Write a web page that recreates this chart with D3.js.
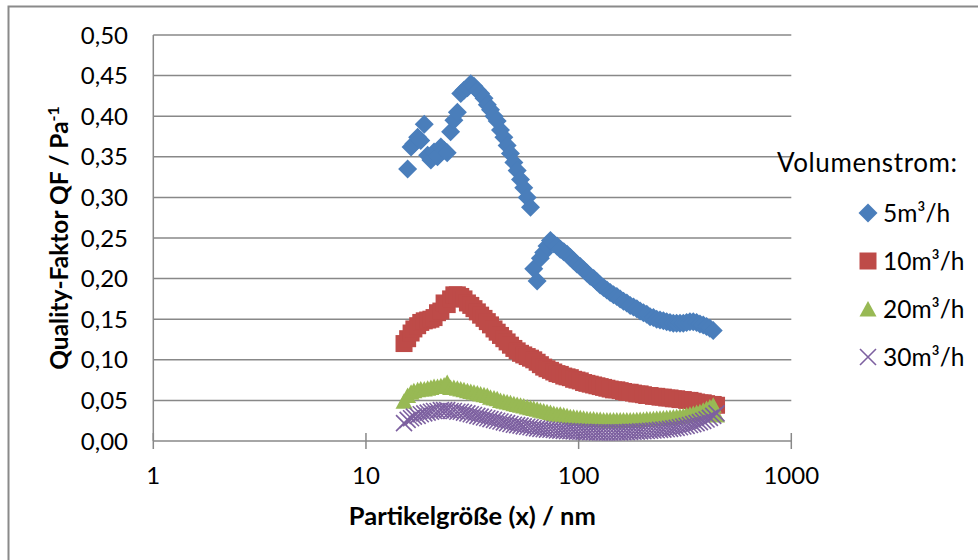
<!DOCTYPE html>
<html>
<head>
<meta charset="utf-8">
<script src="https://cdn.jsdelivr.net/npm/d3@7"></script>
<style>
  body { margin: 0; background: #fff; }
  svg text { font-family: Lato, "Open Sans", sans-serif; fill: #000; }
</style>
</head>
<body>
<div id="my_dataviz"></div>
<script>
// particle size channels (nm), shared by all series
const partikelgroesse = [
  15.1, 15.7, 16.3, 16.8, 17.5, 18.1, 18.8, 19.5, 20.2, 20.9,
  21.7, 22.5, 23.3, 24.1, 25.0, 25.9, 26.9, 27.9, 28.9, 30.0,
  31.1, 32.2, 33.4, 34.6, 35.9, 37.2, 38.5, 40.0, 41.4, 42.9,
  44.5, 46.1, 47.8, 49.6, 51.4, 53.3, 55.2, 57.3, 59.4, 61.5,
  63.8, 66.1, 68.5, 71.0, 73.7, 76.4, 79.1, 82.0, 85.1, 88.2,
  91.4, 94.7, 98.2, 101.8, 105.5, 109.4, 113.4, 117.6, 121.9, 126.3,
  131.0, 135.8, 140.7, 145.9, 151.2, 156.8, 162.5, 168.5, 174.7, 181.1,
  187.7, 194.6, 201.7, 209.1, 216.7, 224.7, 232.9, 241.4, 250.3, 259.5,
  269.0, 278.8, 289.0, 299.6, 310.6, 322.0, 333.8, 346.0, 358.7, 371.8,
  385.4, 399.5, 414.2, 429.4, 445.1
];

// quality factor QF (1/Pa) per volume flow
const qf5 = [
  null, 0.335, 0.362, 0.366, 0.374, 0.370, 0.390, 0.352, 0.346, 0.356,
  0.350, 0.362, 0.358, 0.355, 0.381, 0.395, 0.405, 0.428, 0.432, 0.435,
  0.440, 0.437, 0.432, 0.428, 0.422, 0.414, 0.408, 0.400, 0.394, 0.383,
  0.374, 0.364, 0.354, 0.343, 0.333, 0.322, 0.312, 0.300, 0.288, 0.212,
  0.197, 0.225, 0.232, 0.240, 0.247, 0.243, 0.240, 0.236, 0.233, 0.230,
  0.226, 0.222, 0.218, 0.215, 0.211, 0.207, 0.203, 0.200, 0.196, 0.192,
  0.189, 0.186, 0.183, 0.180, 0.178, 0.175, 0.172, 0.170, 0.167, 0.165,
  0.163, 0.160, 0.158, 0.156, 0.153, 0.152, 0.150, 0.149, 0.148, 0.147,
  0.146, 0.145, 0.145, 0.145, 0.145, 0.146, 0.147, 0.147, 0.146, 0.144,
  0.143, 0.141, 0.139, 0.136, null
];
const qf10 = [
  0.120, 0.126, 0.133, 0.138, 0.142, 0.146, 0.148, 0.149, 0.150, 0.152,
  0.158, 0.160, 0.170, 0.168, 0.175, 0.180, 0.180, 0.178, 0.175, 0.170,
  0.167, 0.163, 0.159, 0.155, 0.151, 0.147, 0.143, 0.138, 0.134, 0.130,
  0.126, 0.122, 0.118, 0.114, 0.111, 0.108, 0.106, 0.104, 0.102, 0.100,
  0.097, 0.094, 0.091, 0.089, 0.087, 0.085, 0.083, 0.082, 0.080, 0.079,
  0.078, 0.076, 0.075, 0.074, 0.072, 0.071, 0.070, 0.069, 0.068, 0.067,
  0.066, 0.065, 0.064, 0.063, 0.063, 0.062, 0.061, 0.060, 0.060, 0.059,
  0.058, 0.058, 0.057, 0.056, 0.056, 0.055, 0.055, 0.054, 0.054, 0.053,
  0.053, 0.052, 0.052, 0.051, 0.051, 0.050, 0.050, 0.049, 0.048, 0.047,
  0.047, 0.046, 0.045, 0.045, 0.044
];
const qf20 = [
  0.049, 0.056, 0.060, 0.062, 0.063, 0.064, 0.064, 0.065, 0.066, 0.067,
  0.067, 0.068, 0.069, 0.072, 0.066, 0.066, 0.065, 0.064, 0.063, 0.062,
  0.061, 0.060, 0.059, 0.058, 0.057, 0.056, 0.054, 0.053, 0.052, 0.050,
  0.049, 0.048, 0.047, 0.046, 0.045, 0.044, 0.043, 0.042, 0.041, 0.040,
  0.039, 0.038, 0.037, 0.036, 0.035, 0.034, 0.033, 0.033, 0.032, 0.031,
  0.030, 0.0295, 0.029, 0.0285, 0.028, 0.0275, 0.027, 0.027, 0.0265, 0.0265,
  0.026, 0.026, 0.026, 0.026, 0.026, 0.026, 0.026, 0.026, 0.026, 0.026,
  0.0262, 0.0264, 0.0266, 0.027, 0.0272, 0.0275, 0.0278, 0.028, 0.0283, 0.0286,
  0.029, 0.0295, 0.030, 0.0305, 0.031, 0.032, 0.033, 0.034, 0.035, 0.036,
  0.038, 0.040, 0.042, 0.044, 0.032
];
const qf30 = [
  0.022, 0.026, 0.028, 0.030, 0.031, 0.033, 0.034, 0.035, 0.036, 0.037,
  0.037, 0.038, 0.038, 0.038, 0.037, 0.037, 0.036, 0.036, 0.035, 0.034,
  0.033, 0.032, 0.031, 0.030, 0.029, 0.028, 0.027, 0.026, 0.025, 0.024,
  0.023, 0.022, 0.021, 0.020, 0.0195, 0.019, 0.018, 0.0175, 0.017, 0.016,
  0.0155, 0.015, 0.0145, 0.014, 0.0138, 0.0135, 0.013, 0.0128, 0.0125, 0.0122,
  0.012, 0.0118, 0.0116, 0.0114, 0.0112, 0.011, 0.011, 0.0108, 0.0107, 0.0106,
  0.0105, 0.0105, 0.0105, 0.0105, 0.0106, 0.0107, 0.0108, 0.011, 0.0112, 0.0114,
  0.0116, 0.0118, 0.012, 0.0123, 0.0126, 0.013, 0.0133, 0.0137, 0.014, 0.0145,
  0.015, 0.0156, 0.0162, 0.017, 0.0178, 0.0187, 0.0197, 0.0208, 0.022, 0.0233,
  0.0248, 0.0265, 0.0285, 0.031, 0.034
];

const seriesNames = ["5m³/h", "10m³/h", "20m³/h", "30m³/h"];
const xTicks = [1, 10, 100, 1000];
const yTicks = [0, 0.05, 0.10, 0.15, 0.20, 0.25, 0.30, 0.35, 0.40, 0.45, 0.50];

// set the dimensions of the page and the plot area
let width = 978;
let height = 560;
let plot = { left: 153.3, right: 791.3, top: 35, bottom: 441 };

var svg = d3
  .select("#my_dataviz")
  .append("svg")
  .attr("width", width)
  .attr("height", height);

// outer chart frame
svg
  .append("rect")
  .attr("x", 8.5)
  .attr("y", 6.5)
  .attr("width", 1000)
  .attr("height", 600)
  .attr("fill", "none")
  .attr("stroke", "#8a8a8a")
  .attr("stroke-width", 2);

let x = d3.scaleLog().domain([1, 1000]).range([plot.left, plot.right]);
let y = d3.scaleLinear().domain([0, 0.5]).range([plot.bottom, plot.top]);

let gridColor = "#888888";

// horizontal gridlines
svg
  .selectAll("line.grid")
  .data(yTicks.slice(1))
  .enter()
  .append("line")
  .attr("class", "grid")
  .attr("x1", plot.left)
  .attr("x2", plot.right)
  .attr("y1", d => y(d))
  .attr("y2", d => y(d))
  .attr("stroke", gridColor)
  .attr("stroke-width", 1.5);

// y axis line
svg
  .append("line")
  .attr("x1", x(1))
  .attr("x2", x(1))
  .attr("y1", plot.top)
  .attr("y2", plot.bottom)
  .attr("stroke", gridColor)
  .attr("stroke-width", 1.5);

// x axis line with cross ticks
svg
  .append("line")
  .attr("x1", plot.left)
  .attr("x2", plot.right)
  .attr("y1", y(0))
  .attr("y2", y(0))
  .attr("stroke", gridColor)
  .attr("stroke-width", 1.5);

svg
  .selectAll("line.xtick")
  .data(xTicks)
  .enter()
  .append("line")
  .attr("class", "xtick")
  .attr("x1", d => x(d))
  .attr("x2", d => x(d))
  .attr("y1", y(0) - 8)
  .attr("y2", y(0) + 8)
  .attr("stroke", gridColor)
  .attr("stroke-width", 1.5);

// tick labels
let yFormat = d => d3.format(".2f")(d).replace(".", ",");

svg
  .selectAll("text.ylabel")
  .data(yTicks)
  .enter()
  .append("text")
  .attr("class", "ylabel")
  .attr("x", 128)
  .attr("y", d => y(d))
  .attr("dy", "0.36em")
  .attr("text-anchor", "end")
  .style("font-size", "24px")
  .text(yFormat);

svg
  .selectAll("text.xlabel")
  .data(xTicks)
  .enter()
  .append("text")
  .attr("class", "xlabel")
  .attr("x", d => x(d))
  .attr("y", 484)
  .attr("text-anchor", "middle")
  .style("font-size", "24px")
  .text(d => d);

// axis titles
svg
  .append("text")
  .attr("x", (plot.left + plot.right) / 2)
  .attr("y", 525)
  .attr("text-anchor", "middle")
  .style("font-size", "25.5px")
  .style("font-weight", "bold")
  .text("Partikelgröße (x) / nm");

let yTitle = svg
  .append("text")
  .attr("transform", "translate(68," + (plot.top + plot.bottom) / 2 + ") rotate(-90)")
  .attr("text-anchor", "middle")
  .style("font-size", "24.5px")
  .style("font-weight", "bold");
yTitle.append("tspan").text("Quality-Faktor QF / Pa");
yTitle.append("tspan").attr("dy", -9).style("font-size", "16px").text("-1");

// marker shapes, one per series
let markerPaths = [
  "M0,-9.5L9.5,0L0,9.5L-9.5,0Z",
  "M-8.5,-8.5H8.5V8.5H-8.5Z",
  "M0,-8L8.5,7.5L-8.5,7.5Z",
  "M-8,-8L8,8M8,-8L-8,8"
];
let colors = ["#4a7ebb", "#be4b48", "#98b954", "#7d60a0"];
let allSeries = [qf5, qf10, qf20, qf30];

function drawMarkers(g, i) {
  if (i == 3) {
    g.attr("fill", "none").attr("stroke", colors[i]).attr("stroke-width", 1.6);
  } else {
    g.attr("fill", colors[i]).attr("stroke", "none");
  }
}

// draw the points of each series, later series on top
allSeries.forEach(function(values, i) {
  let points = partikelgroesse
    .map((d, j) => ({ x: d, v: values[j] }))
    .filter(d => d.v != null);

  let g = svg.append("g").attr("class", "series-" + i);
  drawMarkers(g, i);

  g.selectAll("path")
    .data(points)
    .enter()
    .append("path")
    .attr("d", markerPaths[i])
    .attr("transform", d => "translate(" + x(d.x) + "," + y(d.v) + ")");
});

// legend
svg
  .append("text")
  .attr("x", 777)
  .attr("y", 172)
  .style("font-size", "26px")
  .style("letter-spacing", "0.6px")
  .text("Volumenstrom:");

seriesNames.forEach(function(name, i) {
  let cy = 213 + i * 48;
  let g = svg.append("g").attr("transform", "translate(868," + cy + ")");
  drawMarkers(g, i);
  g.append("path").attr("d", markerPaths[i]);

  svg
    .append("text")
    .attr("x", 883)
    .attr("y", cy)
    .attr("dy", "0.36em")
    .style("font-size", "24.5px")
    .text(name);
});
</script>
</body>
</html>
